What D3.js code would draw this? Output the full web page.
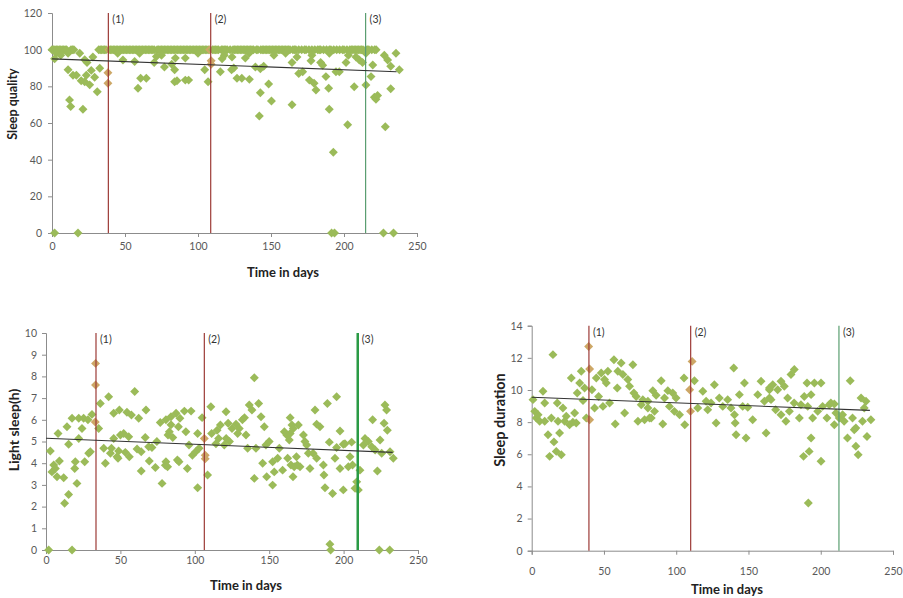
<!DOCTYPE html>
<html lang="en">
<head>
    <meta charset="UTF-8">
    <title>Sleep over time</title>
    <script src="https://d3js.org/d3.v7.min.js"></script>
    <style>
        body { margin: 0; background: #fff; font-family: Lato, "Open Sans", sans-serif; }
        .tick text { fill: #595959; font-size: 10.5px; font-family: Lato, "Liberation Sans", sans-serif; }
        .domain, .tick line { stroke: #8c8c8c; }
        .title { font-weight: bold; fill: #222; }
        .event-label { font-size: 10.5px; fill: #333; }
    </style>
</head>
<body>
<script>
// ---- data ----
const days100 = [0,1,2,3,4,5,6,7,8,9,10,13,14,15,32,33,34,35,36,37,39,40,41,42,43,44,45,46,47,48,49,50,51,52,53,54,55,56,57,58,59,60,61,62,63,64,65,66,67,68,69,70,72,73,74,75,76,77,78,79,80,81,82,83,84,85,86,87,88,89,90,91,92,93,94,95,96,97,98,99,100,101,102,103,104,105,106,107,108,110,111,112,113,114,116,117,118,119,120,122,124,125,126,127,128,129,130,131,132,133,134,135,136,137,138,140,141,143,144,145,146,147,148,149,150,151,152,153,154,155,156,157,158,159,160,161,162,163,165,166,167,169,171,173,174,176,178,180,182,183,184,186,188,190,191,193,195,197,199,200,202,204,205,206,207,208,209,210,211,212,213,215,216,217,219,221,222];

const qualityOther = [[3,98],[6,97],[11,98],[19,98],[45,98],[60,98],[75,97],[100,98],[118,97],[135,98],[152,97],[160,98],[178,97],[190,98],[203,97],[215,98],
    [1.8,95],[11,89],[14.4,86],[16.7,86],[20,83],[23.5,86],[22.4,82.5],[26.9,88.7],[25.8,80.8],[29.2,85],[31,77],[32.7,89.9],[28,96],[22.4,94.5],[24,93],
    [12,72.6],[12.8,69],[21.2,67.5],[38.3,87.4],[38.3,81.7],[48.6,94.4],[56.6,93.5],[60.7,84.4],[64.6,84.4],[58.9,79],[71.5,96.3],[70,93],[77,90.5],
    [82,92],[84,82.5],[84.5,95.4],[91.3,95.4],[84,89],[85.6,83],[91.3,83.4],[93.6,83.4],[104.6,89],[106.9,82.5],[109,94],[109,92],[116.5,95],[115.3,88],
    [123,89],[124.5,90],[123.3,96],[126.7,84.4],[130,84.4],[135.2,83.8],[132.4,95.4],[139.3,90.5],[142.7,89.6],[145,91],[142.7,76.5],[148.4,81.3],
    [150.3,72],[142,63.8],[164.4,93],[164.4,70],[169,87],[167.8,96],[171.7,88],[177.4,94],[176.3,83.4],[179.5,81.7],[180.8,78],[184,93],[185.4,91.5],
    [187.6,85.3],[189.5,79],[189.9,67.5],[194.5,88],[196.8,88],[201.4,93],[202.5,59],[207,79.8],[208.2,96],[210.5,94.4],[212.7,93],[215,80.7],
    [218.5,85.3],[219.7,91.6],[221.9,73],[220.8,74],[223,75],[228.3,58],[227.6,97],[229.9,94.4],[232,91],[232,78.7],[235.6,98],[237.9,89],[192.7,44],
    [1.8,0],[17.8,0],[191.5,0],[193.5,0],[227,0],[233.9,0]];

const lightPoints = [[2.9,4.56],[5.2,3.92],[4,3.6],[6.3,3.76],[7.4,3.38],[9,4.1],[11.9,3.33],[8.1,5.37],[14.1,5.68],[17.5,6.07],[22,6.07],[25.3,6.07],
    [28.2,6.0],[30.9,6.25],[33.3,8.6],[33.3,7.6],[33.1,5.9],[22,5.14],[24.2,5.6],[15.2,4.87],[19.7,4.07],[19.3,3.76],[26,4.07],[28.7,4.46],[29.8,4.53],
    [20.8,3.07],[15.2,2.56],[12.5,2.15],[36.5,6.75],[42.1,7.06],[35.4,5.6],[38.8,4.69],[39.9,4.0],[43.3,4.46],[45.5,6.3],[49.3,6.45],[54.4,6.35],
    [57.4,6.22],[59.6,7.3],[62.3,6.07],[67.2,6.45],[76.8,5.88],[50,5.3],[52.2,5.37],[55.6,5.22],[45.5,5.14],[44,4.69],[48.8,4.56],[53.3,4.5],
    [47.7,4.3],[48.4,4.23],[56,4.3],[61.2,4.65],[64,4.53],[66.7,5.18],[69,4.76],[71.2,4.72],[74.5,5.0],[69.4,4.1],[64,3.64],[73.5,3.8],[78,3.07],
    [80.2,3.91],[82,5.3],[1.8,0],[17.5,0],
    [80.6,6.0],[84,6.14],[84,5.77],[87.4,6.3],[90,6.07],[93,6.4],[97.5,6.4],[82.9,5.45],[89,5.68],[94,5.45],[85.2,5.18],[101.9,5.37],[104.9,6.1],
    [106.4,5.14],[107,4.37],[107,4.2],[80.6,4.07],[81.7,3.84],[88.3,4.15],[89.4,4.07],[95,3.76],[98.4,4.37],[100.6,4.53],[102.9,4.69],[96.1,4.84],
    [101.9,2.87],[108.6,3.46],[110.8,6.6],[111.3,5.37],[115,5.52],[116,5.14],[117.2,5.76],[121,6.37],[122.4,5.84],[125,5.6],[127.7,5.8],[129.9,5.6],
    [132,6.0],[133.4,6.1],[128.8,5.37],[134.4,5.3],[121.1,5.14],[114.2,4.9],[119.8,4.84],[123.3,5.0],[135.5,4.69],[136.6,6.68],[138.4,6.45],
    [142.9,6.75],[140,7.94],[140,3.3],[141.1,4.69],[144.5,6.14],[146.7,5.68],[145.6,4.0],[148.3,3.38],[147.8,4.84],[150,5.0],[152.3,4.07],
    [153.4,3.6],[152.3,2.99],[155.7,4.23],[156.8,4.69],[159,3.68],[160.2,5.45],[161.8,5.3],[162.4,4.23],[163.5,5.07],[165.3,5.76],[164.6,3.92],
    [164.1,6.1],[166.2,5.6],[169.6,5.76],[164.1,5.37],[173,5.3],[174,5.0],[175.2,4.84],[176.3,4.46],[168.3,4.3],[168.9,3.92],[166.8,3.84],
    [166,3.38],[170.7,3.84],[177.4,3.76],[179.5,4.46],[180.8,6.45],[181.9,5.8],[184.1,5.68],[181.9,4.23],[186.4,3.92],[186.8,3.46],[187.5,2.87],
    [189.1,6.75],[192.6,2.6],[190.4,4.97],[195.3,7.06],[197.6,5.48],[194.2,4.23],[195.3,4.72],[197.6,3.76],[199.8,4.87],[200.9,4.9],[199.8,2.77],
    [203.2,3.84],[204.3,4.3],[205.4,4.97],[206,3.92],[207.7,2.84],[208.8,3.14],[209.9,2.77],[211,3.68],[213.3,4.84],[214.4,5.14],[216.6,5.0],
    [218.9,4.76],[219.5,6.0],[221.2,4.61],[222.7,3.64],[224.5,5.07],[225.6,4.46],[227.2,5.84],[227.8,6.68],[228.9,6.45],[229.4,5.52],[231.2,4.53],
    [233.4,4.23],[190.8,0.27],[191.3,0],[224,0],[231,0]];

const durationPoints = [[0.9,9.4],[2.1,8.67],[3.2,8.26],[4.4,8.46],[5.5,8.05],[7.8,9.92],[9,9.19],[9,8.05],[11.3,7.22],[12.4,5.87],[14.7,12.2],
    [13.6,8.26],[15.4,6.77],[17,6.18],[17.7,9.19],[19.3,7.32],[20.5,5.97],[18.2,8.05],[21.6,8.88],[23.9,8.36],[22.8,8.05],[26.2,7.84],[28.5,8.0],
    [27.4,10.75],[29.7,8.57],[30.8,7.94],[31.5,9.81],[33.2,10.44],[34.3,11.16],[35.5,9.34],[36.6,10.12],[37.8,8.26],[39.4,12.71],[40.1,11.3],
    [40.1,8.15],[41.7,10.02],[43.5,8.88],[44.7,10.75],[46.3,9.6],[48.1,11.06],[49.3,8.98],[50.4,10.65],[52.7,11.16],[51.6,10.44],[53.9,9.19],
    [56.9,11.88],[57.8,7.88],[59.2,10.12],[59.6,11.16],[61.9,11.68],[63.1,10.96],[64.3,8.57],[66.5,10.65],[67.7,10.23],[70,11.57],[70.7,9.81],
    [72.3,9.6],[73.5,8.05],[75.8,9.08],[76.9,9.4],[78.1,8.15],[80.4,8.88],[81.5,8.26],
    [80.4,9.3],[82.7,8.26],[83.8,9.96],[86.1,9.67],[89.6,10.58],[90.7,7.88],[91.9,9.5],[94.2,9.96],[95.3,8.98],[97.6,9.81],[99.9,9.5],[102.3,8.46],
    [105.4,10.75],[105.9,7.84],[109.3,10.02],[109.9,8.67],[111,11.78],[112.6,10.58],[114.9,8.88],[118.4,9.92],[120.7,9.3],[124.1,9.19],
    [126.4,10.33],[127.6,7.94],[129.8,9.5],[132.2,8.98],[135.6,9.4],[137.9,8.88],[139.8,11.37],[140.3,8.46],[140.8,7.94],[141.4,7.22],[143.7,9.71],
    [147.2,10.44],[146,8.98],[148.3,7.01],[149.5,8.92],[152.9,8.15],[156.4,9.71],[158.7,10.54],[161,9.3],[162.2,7.32],[164.5,10.02],[165.6,9.4],
    [85,8.67],[98.7,8.67],[121.8,8.77],
    [164.5,10.12],[166.8,10.33],[170.2,10.02],[172.5,10.54],[174.8,10.23],[164.5,9.5],[168.8,8.77],[172.5,8.46],[177.1,9.5],[179.4,10.96],
    [181.7,11.27],[175.9,8.05],[178.3,8.67],[181.6,9.19],[185.2,8.26],[186.3,9.08],[188.6,9.6],[190.5,10.44],[193.3,9.71],[191,8.98],[194.4,8.26],
    [195.6,10.44],[197.9,8.67],[200.2,10.44],[201.3,8.98],[188.1,5.87],[192,6.18],[193.3,7.01],[200.2,5.56],[191.4,2.97],[204.3,8.26],[205.9,9.08],
    [207,9.19],[209.4,9.13],[210.5,8.57],[209.4,7.84],[212.8,8.26],[215.1,8.46],[216.2,8.05],[218.5,7.01],[220.4,10.58],[222,8.26],[223.2,7.53],
    [224.3,6.5],[225.9,5.97],[227.9,9.5],[230.1,8.88],[231.3,9.3],[228.9,8.05],[232,7.11],[234.7,8.15],[224.3,7.63]];

const qualityEvents = [38.6, 108.7, 214.8];
const lightEvents = [33.6, 106.4, 209.5];
const durationEvents = [39.6, 110, 212.6];
const eventLabels = ["(1)", "(2)", "(3)"];

// trend lines: [value at day 0, slope per day, last day]
const qualityTrend = [95, -0.0297, 236];
const lightTrend = [5.15, -0.0028, 233];
const durationTrend = [9.55, -0.0035, 234];

const qualityPoints = days100.map(d => [d, 100]).concat(qualityOther);

// ---- drawing ----
const svg = d3.select("body").append("svg")
    .attr("width", 903)
    .attr("height", 598);

const panels = [
    { points: qualityPoints, events: qualityEvents, trend: qualityTrend, yMax: 120, yStep: 20,
      left: 52, right: 417, top: 13, bottom: 233, xPad: 6, yPad: 6,
      yTitle: "Sleep quality", yTitleX: 17, yTitleY: 104, yTitleSize: 12.5,
      xTitleX: 283, xTitleY: 277, thickGreen: false },
    { points: lightPoints, events: lightEvents, trend: lightTrend, yMax: 10, yStep: 1,
      left: 46, right: 418, top: 333, bottom: 550, xPad: 3, yPad: 5,
      yTitle: "Light sleep(h)", yTitleX: 19, yTitleY: 430, yTitleSize: 14,
      xTitleX: 246, xTitleY: 590, thickGreen: true },
    { points: durationPoints, events: durationEvents, trend: durationTrend, yMax: 14, yStep: 2,
      left: 531.7, right: 893, top: 325.7, bottom: 550.7, xPad: 13, yPad: 5,
      yTitle: "Sleep duration", yTitleX: 505, yTitleY: 420, yTitleSize: 14.5,
      xTitleX: 727, xTitleY: 594, thickGreen: false }
];

const diamond = d3.symbol().type(d3.symbolSquare).size(40);

panels.forEach(p => {
    const x = d3.scaleLinear().domain([0, 250]).range([p.left, p.right]);
    const y = d3.scaleLinear().domain([0, p.yMax]).range([p.bottom, p.top]);
    const g = svg.append("g");

    g.append("g")
        .attr("transform", `translate(0,${p.bottom})`)
        .call(d3.axisBottom(x).tickValues([0, 50, 100, 150, 200, 250]).tickSize(4).tickPadding(p.xPad));
    g.append("g")
        .attr("transform", `translate(${p.left},0)`)
        .call(d3.axisLeft(y).tickValues(d3.range(0, p.yMax + p.yStep / 2, p.yStep)).tickSize(4).tickPadding(p.yPad));

    // points (the ones sitting on the red event lines look orange in the picture)
    g.append("g").selectAll("path")
        .data(p.points)
        .join("path")
        .attr("d", diamond)
        .attr("transform", d => `translate(${x(d[0])},${y(d[1])}) rotate(45)`)
        .attr("fill", d => p.events.slice(0, 2).some(e => Math.abs(d[0] - e) < 1.2) ? "#cda766" : "#9bbb59");

    // event lines
    p.events.forEach((e, i) => {
        const green = i === 2;
        g.append("line")
            .attr("x1", x(e)).attr("x2", x(e))
            .attr("y1", y(p.yMax)).attr("y2", y(0))
            .attr("stroke", green ? (p.thickGreen ? "#2a9a45" : "#5a9e70") : "#9c3a36")
            .attr("stroke-width", green && p.thickGreen ? 2.5 : 1.2);
        g.append("text")
            .attr("class", "event-label")
            .attr("x", x(e) + 4)
            .attr("y", y(p.yMax) + 10)
            .text(eventLabels[i]);
    });

    // trend line
    const [b, m, end] = p.trend;
    g.append("line")
        .attr("x1", x(0)).attr("y1", y(b))
        .attr("x2", x(end)).attr("y2", y(b + m * end))
        .attr("stroke", "#333")
        .attr("stroke-width", 1.1);

    g.append("text")
        .attr("class", "title")
        .attr("text-anchor", "middle")
        .attr("font-size", 13)
        .attr("x", p.xTitleX).attr("y", p.xTitleY)
        .text("Time in days");

    g.append("text")
        .attr("class", "title")
        .attr("text-anchor", "middle")
        .attr("font-size", p.yTitleSize)
        .attr("transform", `translate(${p.yTitleX},${p.yTitleY}) rotate(-90)`)
        .text(p.yTitle);
});
</script>
</body>
</html>
